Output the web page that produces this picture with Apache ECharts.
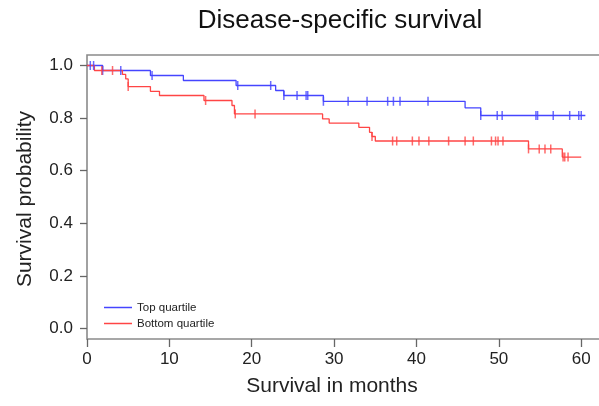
<!DOCTYPE html>
<html><head><meta charset="utf-8">
<script src="https://cdn.jsdelivr.net/npm/echarts@6/dist/echarts.min.js"></script>
<style>html,body{margin:0;padding:0;background:#fff}#c{width:599px;height:406px}</style>
</head><body><div id="c"></div>
<script>
const titleText = 'Disease-specific survival';
const xAxisTitle = 'Survival in months';
const yAxisTitle = 'Survival probability';
const seriesNames = ['Top quartile', 'Bottom quartile'];
const xTicks = [0, 10, 20, 30, 40, 50, 60];
const yTicks = [0, 0.2, 0.4, 0.6, 0.8, 1.0];

// Top quartile: event times and survival after each event
const topTimes = [0, 1.9, 7.7, 11.7, 18.1, 22.9, 23.9, 28.7, 45.9, 47.8, 60.5];
const topSurv  = [1.0, 0.981, 0.962, 0.943, 0.924, 0.905, 0.886, 0.864, 0.839, 0.810, 0.810];
const topCensor = [0.4, 0.8, 1.9, 4.1, 7.9, 18.3, 22.3, 23.9, 25.5, 26.6, 26.8, 28.7, 31.7, 34.0, 36.5, 37.2, 38.0, 41.4, 47.8, 49.8, 50.4, 54.5, 54.7, 56.6, 58.6, 59.7, 60.0];

// Bottom quartile
const bottomTimes = [0, 0.9, 4.3, 4.7, 5.0, 7.7, 8.8, 14.2, 17.6, 17.9, 28.6, 29.4, 33.0, 34.3, 34.6, 35.0, 53.6, 57.7, 60.0];
const bottomSurv  = [1.0, 0.981, 0.966, 0.949, 0.920, 0.902, 0.886, 0.867, 0.848, 0.816, 0.797, 0.781, 0.765, 0.746, 0.730, 0.713, 0.683, 0.652, 0.652];
const bottomCensor = [1.8, 3.1, 5.0, 14.4, 18.0, 20.4, 34.6, 37.1, 37.6, 39.5, 40.3, 41.5, 43.9, 45.9, 46.9, 49.1, 49.6, 49.9, 50.5, 53.6, 54.9, 55.6, 56.3, 57.8, 58.0, 58.4];

const colors = ['#4545ff', '#ff4545'];
const FONT = 'Liberation Sans, Arial, sans-serif';

function stepValue(times, surv, t) {
  let v = surv[0];
  for (let i = 0; i < times.length; i++) { if (times[i] <= t) v = surv[i]; }
  return v;
}
function zipPts(a, b) { return a.map((t, i) => [t, b[i]]); }

const groups = [
  { name: seriesNames[0], times: topTimes, surv: topSurv, cens: topCensor, color: colors[0] },
  { name: seriesNames[1], times: bottomTimes, surv: bottomSurv, cens: bottomCensor, color: colors[1] }
];

const series = [];
groups.forEach(g => {
  series.push({
    name: g.name, type: 'line', step: 'end', data: zipPts(g.times, g.surv),
    showSymbol: false, symbol: 'none', lineStyle: { color: g.color, width: 1.3 },
    itemStyle: { color: g.color }, z: 3, animation: false
  });
});
groups.forEach(g => {
  series.push({
    name: g.name + ' censored', type: 'scatter', symbol: 'rect', symbolSize: [1.5, 9],
    data: g.cens.map(t => [t, stepValue(g.times, g.surv, t)]),
    itemStyle: { color: g.color }, z: 4, animation: false
  });
});

const chart = echarts.init(document.getElementById('c'), null, { renderer: 'canvas' });
chart.setOption({
  backgroundColor: '#fff',
  animation: false,
  grid: { left: 87, top: 55, width: 514, height: 284, outerBoundsMode: 'none', containLabel: false, show: true, borderColor: '#8a8a8a', borderWidth: 1.6, backgroundColor: 'transparent' },
  xAxis: {
    type: 'value', min: 0, max: 62.4,
    axisLine: { show: false, onZero: false },
    axisTick: { show: true, inside: false, length: 8, lineStyle: { color: '#666', width: 1.3 }, customValues: xTicks },
    axisLabel: { customValues: xTicks, fontFamily: FONT, fontSize: 17, color: '#222', margin: 12 },
    splitLine: { show: false }
  },
  yAxis: {
    type: 'value', min: -0.04, max: 1.04,
    axisLine: { show: false, onZero: false },
    axisTick: { show: true, inside: false, length: 7, lineStyle: { color: '#666', width: 1.3 }, customValues: yTicks },
    axisLabel: { customValues: yTicks, fontFamily: FONT, fontSize: 17, color: '#222', margin: 14, formatter: v => v.toFixed(1) },
    splitLine: { show: false }
  },
  legend: {
    orient: 'vertical', left: 99, top: 296, itemWidth: 28, itemHeight: 1.5, itemGap: 3,
    icon: 'rect', data: seriesNames,
    textStyle: { fontFamily: FONT, fontSize: 11.5, color: '#222', lineHeight: 13 }
  },
  graphic: [
    { type: 'text', x: 340, y: 21, style: { text: titleText, font: '26px ' + FONT, fill: '#111', align: 'center', verticalAlign: 'middle' } },
    { type: 'text', x: 332, y: 386, style: { text: xAxisTitle, font: '21px ' + FONT, fill: '#222', align: 'center', verticalAlign: 'middle' } },
    { type: 'text', x: 25, y: 199, rotation: Math.PI / 2, style: { text: yAxisTitle, font: '21px ' + FONT, fill: '#222', align: 'center', verticalAlign: 'middle' } }
  ],
  series: series
});
</script>
</body></html>
